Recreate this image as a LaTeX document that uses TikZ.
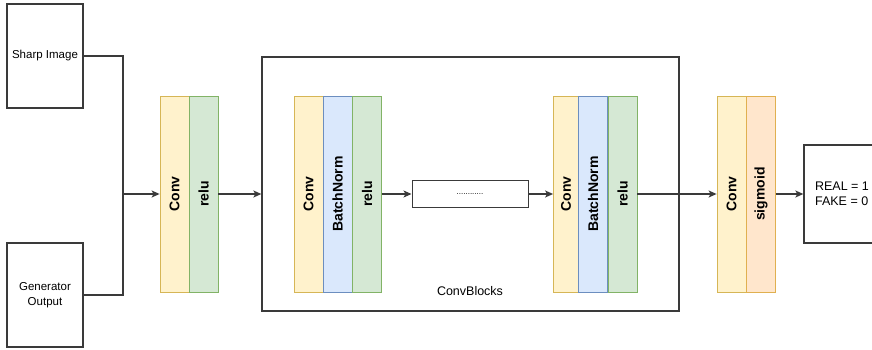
\documentclass[tikz,border=0pt]{standalone}
\usepackage{fontspec}
\setmainfont{Liberation Sans}
\usepackage{graphicx}
\usetikzlibrary{arrows.meta}

\definecolor{linegray}{HTML}{3A3A3A}
\definecolor{convfill}{HTML}{FFF2CC}
\definecolor{convline}{HTML}{D6B656}
\definecolor{bnfill}{HTML}{DAE8FC}
\definecolor{bnline}{HTML}{6C8EBF}
\definecolor{relufill}{HTML}{D5E8D4}
\definecolor{reluline}{HTML}{82B366}
\definecolor{sigfill}{HTML}{FFE6CC}
\definecolor{sigline}{HTML}{E0B050}

\begin{document}
\begin{tikzpicture}[x=1pt,y=-1pt,
    box/.style={draw=linegray,line width=1.3pt,minimum width=76pt,minimum height=104pt,
        inner sep=0pt,align=center,font=\fontsize{11.5}{15}\selectfont},
    layer/.style={line width=0.8pt,minimum width=29pt,minimum height=196pt,inner sep=0pt,
        font=\bfseries\fontsize{14}{16}\selectfont},
    convl/.style={layer,fill=convfill,draw=convline},
    bnl/.style={layer,fill=bnfill,draw=bnline},
    relul/.style={layer,fill=relufill,draw=reluline},
    sigl/.style={layer,fill=sigfill,draw=sigline},
    arr/.style={draw=linegray,line width=1.3pt,-{Stealth[length=8pt,width=7pt,inset=2pt]}},
    wire/.style={draw=linegray,line width=1.3pt}]
    \useasboundingbox (0,0) rectangle (872,350);

    % inputs
    \node[box] (sharp) at (45,56) {Sharp Image};
    \node[box] (gen) at (45,295) {Generator\\Output};
    \coordinate (join) at (123,194);
    \draw[wire] (sharp.east) -| (join);
    \draw[wire] (gen.east) -| (join);

    % first layer
    \node[convl] (conv1) at (174.5,194) {\rotatebox{90}{Conv}};
    \node[relul] (relu1) at (203.5,194) {\rotatebox{90}{relu}};
    \draw[arr] (join) -- (conv1.west);

    % conv blocks
    \node[box,minimum width=417pt,minimum height=254pt] (blocks) at (470.5,184) {};
    \node[convl] (convA) at (308.5,194) {\rotatebox{90}{Conv}};
    \node[bnl] (bnA) at (337.5,194) {\rotatebox{90}{BatchNorm}};
    \node[relul] (reluA) at (367,194) {\rotatebox{90}{relu}};
    \node[box,minimum width=116pt,minimum height=27pt,line width=1pt] (dots) at (470,194)
        {\fontsize{8}{8}\selectfont............};
    \node[convl,minimum width=25pt] (convB) at (566,194) {\rotatebox{90}{Conv}};
    \node[bnl] (bnB) at (593,194) {\rotatebox{90}{BatchNorm}};
    \node[relul] (reluB) at (622.5,194) {\rotatebox{90}{relu}};
    \node[font=\fontsize{12.5}{15}\selectfont] (cbname) at (470,291) {ConvBlocks};
    \draw[arr] (relu1.east) -- (relu1.east -| blocks.west);
    \draw[arr] (reluA.east) -- (dots.west);
    \draw[arr] (dots.east) -- (convB.west);

    % output layer
    \node[convl] (conv3) at (731.5,194) {\rotatebox{90}{Conv}};
    \node[sigl] (sig) at (761,194) {\rotatebox{90}{sigmoid}};
    \node[box,minimum height=98pt,align=left,font=\fontsize{12.5}{15}\selectfont] (out) at (842,194) {REAL = 1\\FAKE = 0};
    \draw[arr] (reluB.east) -- (conv3.west);
    \draw[arr] (sig.east) -- (out.west);
\end{tikzpicture}
\end{document}
